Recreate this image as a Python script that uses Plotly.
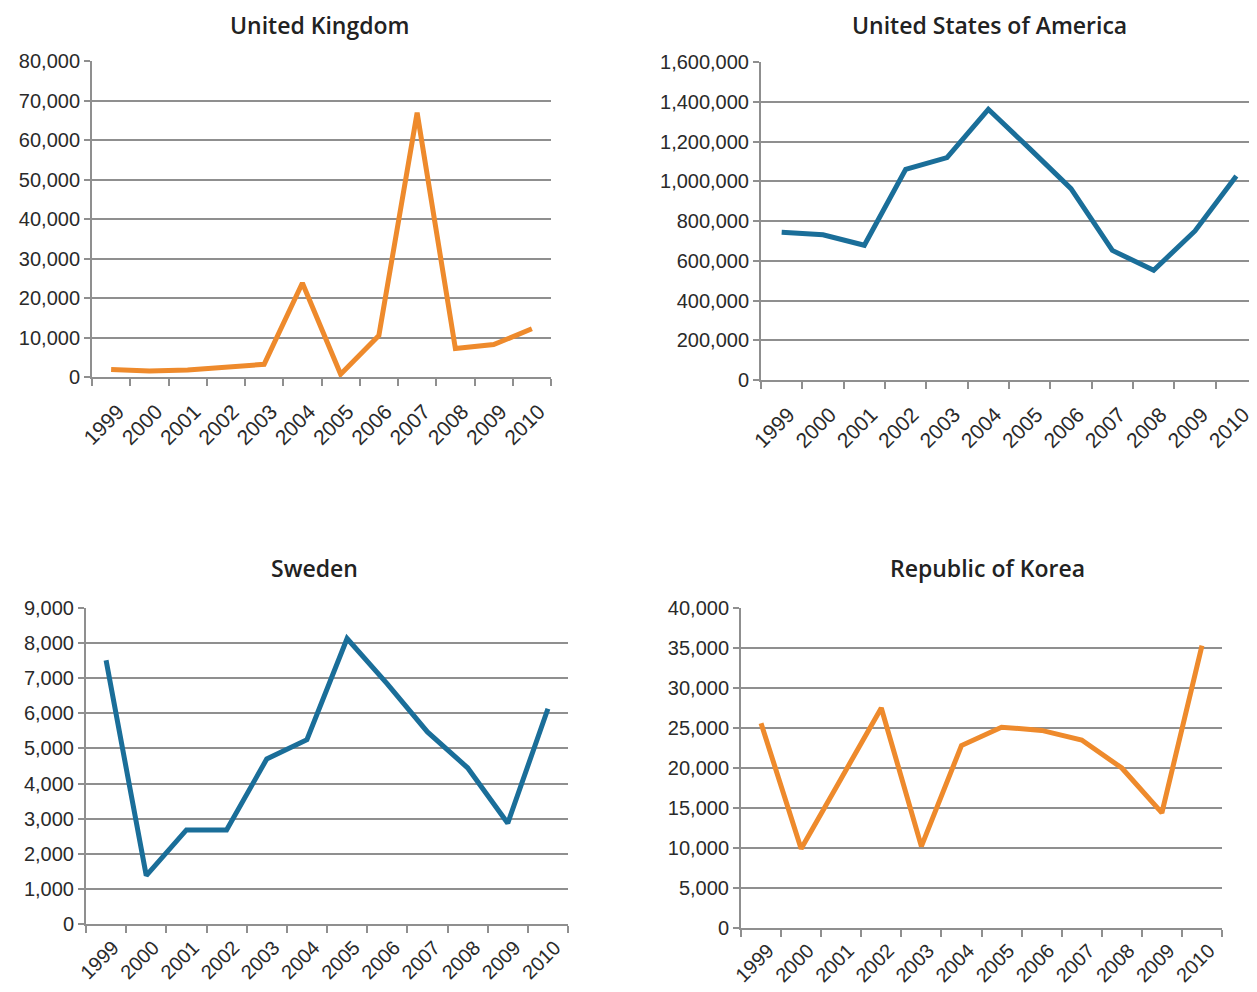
import plotly.graph_objects as go

years = ["1999", "2000", "2001", "2002", "2003", "2004", "2005", "2006", "2007", "2008", "2009", "2010"]

uk = [1900, 1500, 1800, 2400, 3200, 23800, 700, 10500, 66900, 7200, 8200, 12200]
usa = [744000, 731000, 678000, 1060000, 1119000, 1362000, 1164000, 963000, 652000, 552000, 750000, 1026000]
sweden = [7510, 1380, 2680, 2680, 4700, 5250, 8130, 6840, 5470, 4450, 2870, 6130]
korea = [25600, 9900, 18700, 27500, 10200, 22800, 25100, 24700, 23500, 20000, 14400, 35300]

titles = ["United Kingdom", "United States of America", "Sweden", "Republic of Korea"]
ORANGE = "#EE8A2C"
BLUE = "#1A6E99"

# page has an 8px body margin; size the figure so it fills the window exactly
OFF = 8
W, H = 1257 - OFF, 992 - OFF

def px_x(x):
    return (x - OFF) / W

def px_y(y):
    return 1 - (y - OFF) / H

panels = [
    dict(data=uk, color=ORANGE, x0=92, x1=551, ytop=61, ybot=377, rng=[0, 80000], dtick=10000, title=titles[0], tx=320, ty=25, standoff=12, fs=21),
    dict(data=usa, color=BLUE, x0=761, x1=1257, ytop=62, ybot=380, rng=[0, 1600000], dtick=200000, title=titles[1], tx=989, ty=25, standoff=12, fs=21),
    dict(data=sweden, color=BLUE, x0=86, x1=568, ytop=608, ybot=924, rng=[0, 9000], dtick=1000, title=titles[2], tx=314, ty=568, standoff=2, fs=20),
    dict(data=korea, color=ORANGE, x0=741, x1=1222, ytop=608, ybot=928, rng=[0, 40000], dtick=5000, title=titles[3], tx=987, ty=568, standoff=1, fs=20),
]

fig = go.Figure()
layout = dict(
    width=W, height=H,
    margin=dict(l=0, r=0, t=0, b=0, autoexpand=False),
    paper_bgcolor="white", plot_bgcolor="white",
    showlegend=False,
    annotations=[],
)

GRID = "#8f8f8f"
tickfont = dict(family="Liberation Sans, Arial, sans-serif", size=20, color="#2a2a2a")

for i, p in enumerate(panels):
    n = "" if i == 0 else str(i + 1)
    fig.add_trace(go.Scatter(
        x=years, y=p["data"], mode="lines",
        line=dict(color=p["color"], width=5),
        xaxis="x" + n, yaxis="y" + n,
        cliponaxis=False,
    ))
    layout["xaxis" + n] = dict(
        domain=[px_x(p["x0"]), min(1.0, px_x(p["x1"]))],
        anchor="y" + n, type="category",
        range=[-0.5, 11.5],
        tickangle=-45,
        tickson="boundaries",
        ticks="outside", ticklen=7, tickwidth=2, tickcolor=GRID,
        ticklabelstandoff=p["standoff"], ticklabelshift=7,
        showline=True, linecolor=GRID, linewidth=2,
        showgrid=False, zeroline=False,
        tickfont=dict(family="Liberation Sans, Arial, sans-serif", size=p["fs"], color="#2a2a2a"),
        automargin=False,
        fixedrange=True,
    )
    layout["yaxis" + n] = dict(
        domain=[px_y(p["ybot"]), px_y(p["ytop"])],
        anchor="x" + n,
        range=p["rng"], dtick=p["dtick"], tick0=0,
        tickformat=",d",
        ticks="outside", ticklen=6, tickwidth=2, tickcolor=GRID,
        showline=True, linecolor=GRID, linewidth=2,
        showgrid=True, gridcolor=GRID, gridwidth=2,
        zeroline=False,
        tickfont=tickfont,
        automargin=False,
        fixedrange=True,
    )
    layout["annotations"].append(dict(
        text=p["title"], xref="paper", yref="paper",
        x=px_x(p["tx"]), y=px_y(p["ty"]),
        xanchor="center", yanchor="middle", showarrow=False,
        font=dict(family="Open Sans, Noto Sans, sans-serif", size=23, color="#222222", weight=600),
    ))

fig.update_layout(**layout)
fig.write_html("out.html")
